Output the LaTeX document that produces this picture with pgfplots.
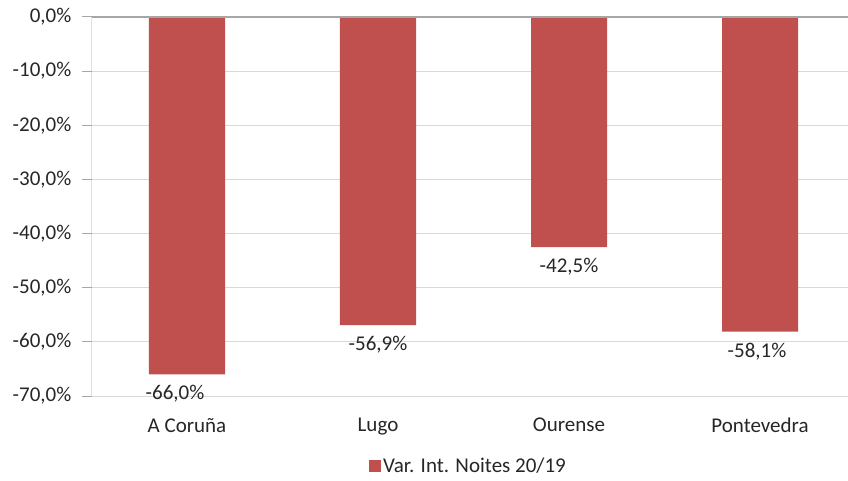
\documentclass[border=0pt]{standalone}
\usepackage{fontspec}
\setmainfont{Carlito}
\usepackage{pgfplots}
\pgfplotsset{compat=1.18}
\definecolor{barred}{HTML}{C0504D}
\definecolor{gridc}{HTML}{D9D9D9}
\definecolor{axc}{HTML}{A6A6A6}
\definecolor{txt}{HTML}{262626}
\begin{document}
\begin{tikzpicture}[font=\fontsize{21}{25}\selectfont]
\useasboundingbox (0pt,0pt) rectangle (848pt,480pt);
\begin{axis}[
  at={(91.5pt,84pt)}, anchor=south west,
  scale only axis, width=756.5pt, height=379pt,
  xmin=-0.5, xmax=3.4607, ymin=-70, ymax=0,
  ybar, bar width=0.398,
  xtick={0,1,2,3}, xticklabels={A Coruña, Lugo, Ourense, Pontevedra},
  ytick={-70,-60,-50,-40,-30,-20,-10,0},
  yticklabel={\pgfmathprintnumber[fixed,fixed zerofill,precision=1,use comma]{\tick}\%},
  /pgf/number format/assume math mode=true,
  ymajorgrids, grid style={gridc, line width=1pt},
  axis line style={draw=none},
  ytick style={axc, line width=1pt}, tick align=outside, major tick length=9pt,
  ytick pos=left, xtick pos=bottom,
  xtick style={draw=none},
  yticklabel style={anchor=east, inner sep=0pt, xshift=-11pt, text=txt},
  xticklabel style={anchor=north, inner sep=0pt, yshift=-13pt, text=txt},
  legend style={at={(0.4983,-0.1847)}, anchor=center, draw=none, fill=none, text=txt},
  legend image code/.code={\fill[barred] (0pt,-6pt) rectangle (12pt,6pt);},
]
\draw[gridc, line width=1pt] (rel axis cs:0,0) -- (rel axis cs:1,0);
\addplot[fill=barred, draw=none,
  visualization depends on={\thisrow{dx} \as \dx},
  nodes near coords={\pgfmathprintnumber[fixed,fixed zerofill,precision=1,use comma]{\pgfplotspointmeta}\%},
  nodes near coords style={anchor=north, text=txt, inner sep=0pt, yshift=-11pt, xshift=\dx pt},
  ] table[x=x, y=y] {
x y dx
0 -66.0 -12
1 -56.9 0
2 -42.5 0
3 -58.1 -3
};
\addlegendentry{Var. Int. Noites 20/19}
\draw[axc, line width=1pt] (rel axis cs:0,0) -- (rel axis cs:0,1);
\draw[axc, line width=1.5pt] (rel axis cs:0,1) -- (rel axis cs:1,1);
\end{axis}
\end{tikzpicture}
\end{document}
